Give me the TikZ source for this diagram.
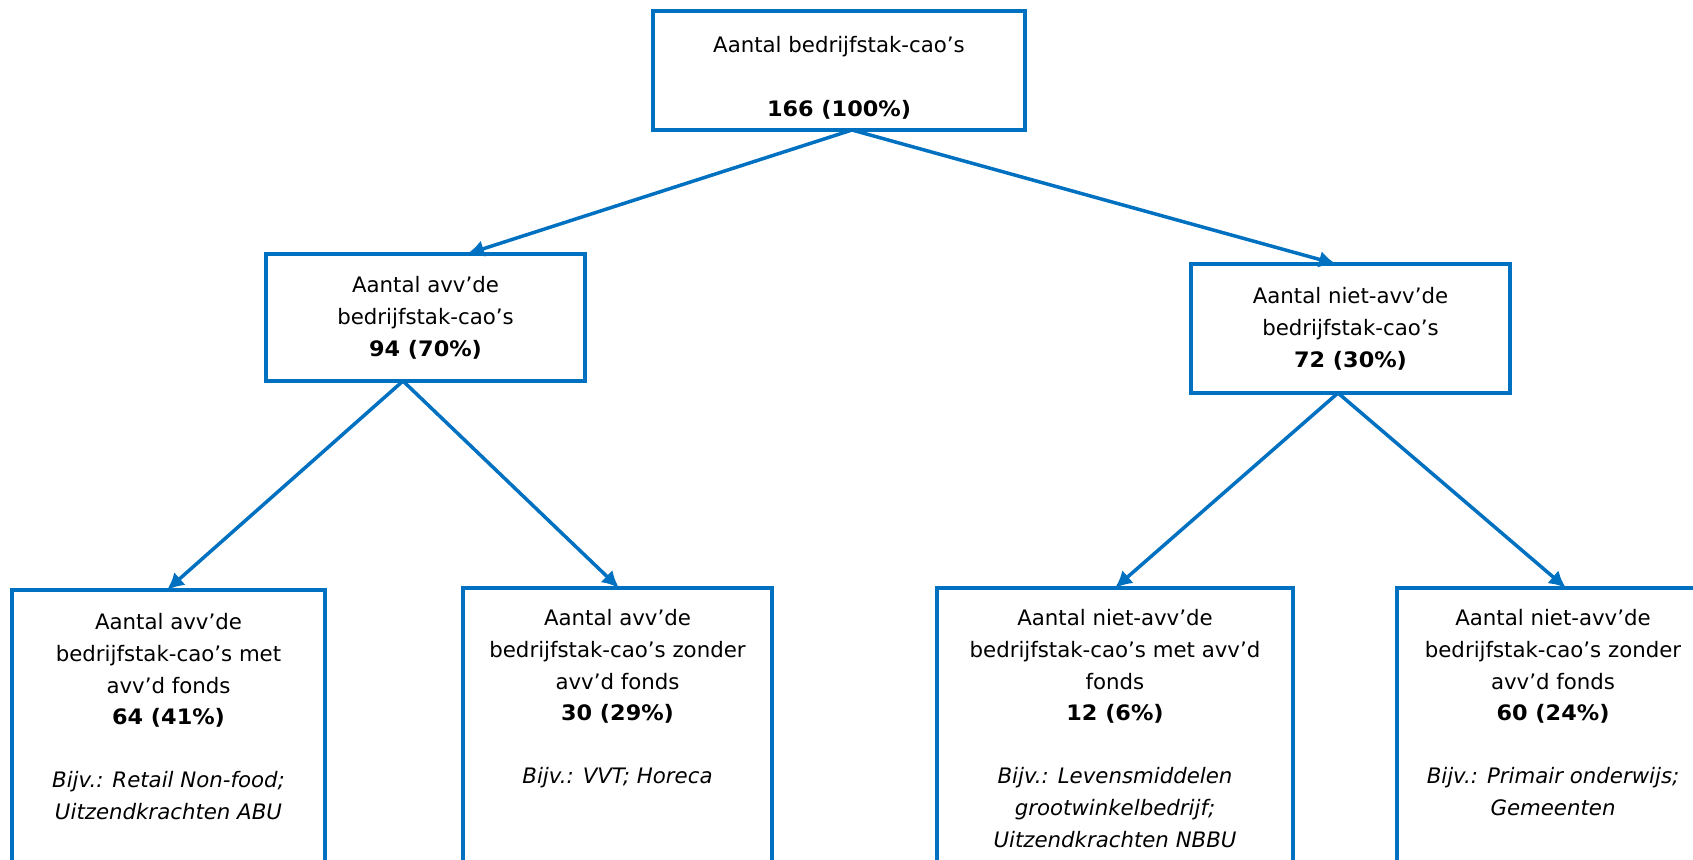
\documentclass[tikz,border=0pt]{standalone}
\usepackage{fontspec}
\setmainfont{DejaVu Sans}[BoldFeatures={FakeStretch=1.05}]
\usetikzlibrary{arrows.meta}
\definecolor{cblue}{HTML}{0070C0}
\newcommand{\boxlines}[1]{\begin{tabular}[t]{@{}c@{}}#1\end{tabular}}
\begin{document}
\begin{tikzpicture}[x=0.5pt,y=-0.5pt,
  box/.style={draw=cblue,line width=2pt,inner sep=0pt,outer sep=0pt,fill=white},
  txt/.style={anchor=base,inner sep=0pt,font=\fontsize{10.65pt}{15.8pt}\selectfont},
  arr/.style={draw=cblue,line width=1.75pt,-{Latex[length=8.5pt,width=8.5pt]}}]
\useasboundingbox (0,0) rectangle (1693,860);
\clip (0,0) rectangle (1693,860);

% boxes
\node[box,minimum width=186pt,minimum height=59.5pt] (top) at (839,70.5) {};
\node[box,minimum width=159.5pt,minimum height=63.5pt] (lm) at (425.5,317.5) {};
\node[box,minimum width=159.5pt,minimum height=64.5pt] (rm) at (1350.5,328.5) {};
\node[box,minimum width=156.5pt,minimum height=165pt] (b1) at (168.5,755) {};
\node[box,minimum width=154.5pt,minimum height=166pt] (b2) at (617.5,754) {};
\node[box,minimum width=178pt,minimum height=166pt] (b3) at (1115,754) {};
\node[box,minimum width=156pt,minimum height=166pt] (b4) at (1553,754) {};

% texts
\node[txt] (ttop) at ([yshift=-21pt]top.north) {\boxlines{Aantal bedrijfstak-cao’s\\ \\ \textbf{166 (100\%)}}};
\node[txt] (tlm) at ([yshift=-19.5pt]lm.north) {\boxlines{Aantal avv’de\\ bedrijfstak-cao’s\\ \textbf{94 (70\%)}}};
\node[txt] (trm) at ([yshift=-20pt]rm.north) {\boxlines{Aantal niet-avv’de\\ bedrijfstak-cao’s\\ \textbf{72 (30\%)}}};
\node[txt] (tb1) at ([yshift=-20pt]b1.north) {\boxlines{Aantal avv’de\\ bedrijfstak-cao’s met\\ avv’d fonds\\ \textbf{64 (41\%)}\\ \\ \textit{Bijv.: Retail Non-food;}\\ \textit{Uitzendkrachten ABU}}};
\node[txt] (tb2) at ([yshift=-19pt]b2.north) {\boxlines{Aantal avv’de\\ bedrijfstak-cao’s zonder\\ avv’d fonds\\ \textbf{30 (29\%)}\\ \\ \textit{Bijv.: VVT; Horeca}}};
\node[txt] (tb3) at ([yshift=-19pt]b3.north) {\boxlines{Aantal niet-avv’de\\ bedrijfstak-cao’s met avv’d\\ fonds\\ \textbf{12 (6\%)}\\ \\ \textit{Bijv.: Levensmiddelen}\\ \textit{grootwinkelbedrijf;}\\ \textit{Uitzendkrachten NBBU}}};
\node[txt] (tb4) at ([yshift=-19pt]b4.north) {\boxlines{Aantal niet-avv’de\\ bedrijfstak-cao’s zonder\\ avv’d fonds\\ \textbf{60 (24\%)}\\ \\ \textit{Bijv.: Primair onderwijs;}\\ \textit{Gemeenten}}};

% connectors
\draw[arr] ([xshift=6.5pt]top.south) -- ([xshift=20.75pt]lm.north);
\draw[arr] ([xshift=6.5pt]top.south) -- ([xshift=-7.25pt]rm.north);
\draw[arr] ([xshift=-11.25pt]lm.south) -- ([xshift=-0.75pt]b1.north);
\draw[arr] ([xshift=-11.25pt]lm.south) -- ([xshift=0.75pt]b2.north);
\draw[arr] ([xshift=-6.25pt]rm.south) -- (b3.north);
\draw[arr] ([xshift=-6.25pt]rm.south) -- ([xshift=6.5pt]b4.north);
\end{tikzpicture}
\end{document}
